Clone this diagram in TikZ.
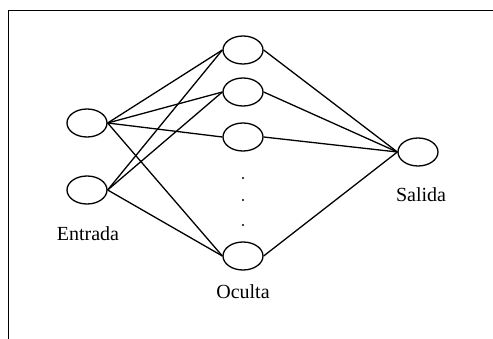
\documentclass[tikz,border=0pt]{standalone}
\usepackage{fontspec}
\setmainfont{Liberation Serif}
\usetikzlibrary{shapes.geometric}
\begin{document}
\begin{tikzpicture}[x=1pt,y=-1pt,
  neuron/.style={draw,ellipse,line width=1.3pt,minimum width=40pt,minimum height=28pt,inner sep=0pt},
  conn/.style={line width=1.3pt},
  lbl/.style={font=\fontsize{20}{22}\selectfont,inner sep=0pt}]
\useasboundingbox (0,0) rectangle (493,339);
\coordinate (tl) at (8,10);
\coordinate (tr) at (493,10);
\coordinate (bl) at (8,339);
\draw[line width=0.8pt] (bl) -- (tl) -- (tr);
\node[neuron] (i1) at (87,123) {};
\node[neuron] (i2) at (87,190) {};
\node[neuron] (h1) at (243,50) {};
\node[neuron] (h2) at (243,92) {};
\node[neuron] (h3) at (243,137) {};
\node[neuron] (h4) at (243,256) {};
\node[neuron] (o) at (418,152) {};
\node[circle,fill,inner sep=0.8pt] (d1) at (243,178) {};
\node[circle,fill,inner sep=0.8pt] (d2) at (243,200) {};
\node[circle,fill,inner sep=0.8pt] (d3) at (243,225) {};
\foreach \h in {h1,h2,h3,h4} \draw[conn] (i1.east) -- (\h.west);
\foreach \h in {h1,h2,h4} \draw[conn] (i2.east) -- (\h.west);
\foreach \h in {h1,h2,h3,h4} \draw[conn] (\h.east) -- (o.west);
\node[lbl] (le) at (88,234) {Entrada};
\node[lbl] (lo) at (243,292) {Oculta};
\node[lbl] (ls) at (421,195) {Salida};
\end{tikzpicture}
\end{document}
